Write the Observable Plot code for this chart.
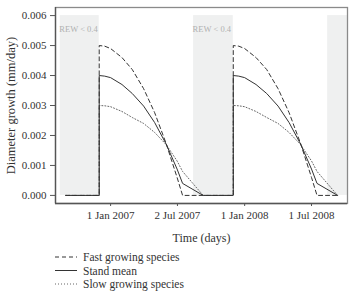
<!DOCTYPE html>
<html><head><meta charset="utf-8">
<script src="https://cdn.jsdelivr.net/npm/d3@7"></script>
<script src="https://cdn.jsdelivr.net/npm/@observablehq/plot@0.6"></script>
<style>body{margin:0;background:#fff;} #chart{width:350px;height:294px;}</style>
</head><body><div id="chart"></div>
<script>
const dates = [
  "2006-09-01","2006-12-01","2006-12-01","2006-12-16","2007-01-01","2007-02-01","2007-03-01","2007-04-01","2007-05-01","2007-06-01","2007-07-01","2007-07-16","2007-09-10",
  "2007-12-01","2007-12-01","2007-12-16","2008-01-01","2008-02-01","2008-03-01","2008-04-01","2008-05-01","2008-06-01","2008-07-01","2008-07-16","2008-09-10"
];
const fast = [0,0,0.005,0.00498,0.0049,0.0046,0.0042,0.00356,0.00276,0.00174,0.0006,0,0,
  0,0.005,0.00498,0.0049,0.0046,0.0042,0.00356,0.00276,0.00174,0.0006,0,0];
const mean = [0,0,0.004,0.00398,0.00393,0.0037,0.0034,0.00298,0.00243,0.00172,0.00088,0.0004,0,
  0,0.004,0.00398,0.00393,0.0037,0.0034,0.00298,0.00243,0.00172,0.00088,0.0004,0];
const slow = [0,0,0.003,0.00299,0.00296,0.0028,0.0026,0.0024,0.0021,0.0017,0.00115,0.0008,0,
  0,0.003,0.00299,0.00296,0.0028,0.0026,0.0024,0.0021,0.0017,0.00115,0.0008,0];
const dryStart = ["2006-08-17","2007-08-15","2008-08-14"];
const dryEnd = ["2006-12-01","2007-12-01","2008-10-07"];
const dryLabel = ["REW < 0.4","REW < 0.4",""];
const yTicks = [0,0.001,0.002,0.003,0.004,0.005,0.006];
const xTicks = ["2007-01-01","2007-07-02","2008-01-01","2008-07-01"];
const xDomain = ["2006-08-04","2008-10-07"];
const yDomain = [-0.00027,0.00627];
const seriesNames = ["Fast growing species","Stand mean","Slow growing species"];

const rows = s => dates.map((d,i)=>({date:new Date(d), v:s[i]}));
const dryIdx = dryStart.map((d,i)=>i);
const font = "'Liberation Serif', 'DejaVu Serif', serif";

const plot = Plot.plot({
  width:350, height:250, marginTop:7, marginBottom:47, marginLeft:55, marginRight:3,
  style:{fontFamily:font, fontSize:"11px", color:"#333", background:"#fff"},
  x:{type:"utc", domain:xDomain.map(d=>new Date(d))},
  y:{domain:yDomain},
  marks:[
    Plot.rect(dryIdx, {x1:i=>new Date(dryStart[i]), x2:i=>new Date(dryEnd[i]), y1:0, y2:0.006, fill:"#eff0f0"}),
    Plot.text(dryIdx.filter(i=>dryLabel[i]), {x:i=>new Date(dryStart[i]), y:0.006, text:i=>dryLabel[i], dy:14, dx:-1, textAnchor:"start", fill:"#b0b0b0", fontSize:8.5}),
    Plot.frame({stroke:"#8a8a8a", strokeWidth:1.3}),
    Plot.ruleX([new Date(xDomain[0])], {stroke:"#555", strokeWidth:1.3}),
    Plot.ruleY([yDomain[0]], {stroke:"#555", strokeWidth:1.3}),
    Plot.axisY({ticks:yTicks, tickFormat:d3.format(".3f"), tickSize:5, tickPadding:4, label:null, stroke:"#555", fontSize:11}),
    Plot.axisX({ticks:xTicks.map(d=>new Date(d)), tickFormat:d3.utcFormat("%-d %b %Y"), tickSize:3, tickPadding:5, label:null, stroke:"#555", fontSize:11}),
    Plot.line(rows(slow), {x:"date", y:"v", stroke:"#666", strokeWidth:1, strokeDasharray:"1,2"}),
    Plot.line(rows(fast), {x:"date", y:"v", stroke:"#333", strokeWidth:1, strokeDasharray:"4,3"}),
    Plot.line(rows(mean), {x:"date", y:"v", stroke:"#333", strokeWidth:1}),
    Plot.text(["Time (days)"], {text:d=>d, frameAnchor:"bottom", dy:38, fontSize:12, fill:"#333"}),
    Plot.text(["Diameter growth (mm/day)"], {text:d=>d, frameAnchor:"left", textAnchor:"middle", dx:-45, rotate:-90, fontSize:12.5, fill:"#333"})
  ]
});
const chart = document.getElementById("chart");
chart.appendChild(plot);

const leg = d3.select(chart).append("svg").attr("width",350).attr("height",44)
  .style("display","block").style("font-family",font).style("font-size","11.5px");
const dashes = ["4,3", null, "1,2"];
const cols = ["#333","#333","#666"];
seriesNames.forEach((n,i)=>{
  const y = 7 + i*13.5;
  leg.append("line").attr("x1",55).attr("x2",77).attr("y1",y).attr("y2",y)
    .attr("stroke",cols[i]).attr("stroke-width",1).attr("stroke-dasharray",dashes[i]);
  leg.append("text").attr("x",83).attr("y",y).attr("dy","0.35em").attr("fill","#333").text(n);
});
</script>
</body></html>
